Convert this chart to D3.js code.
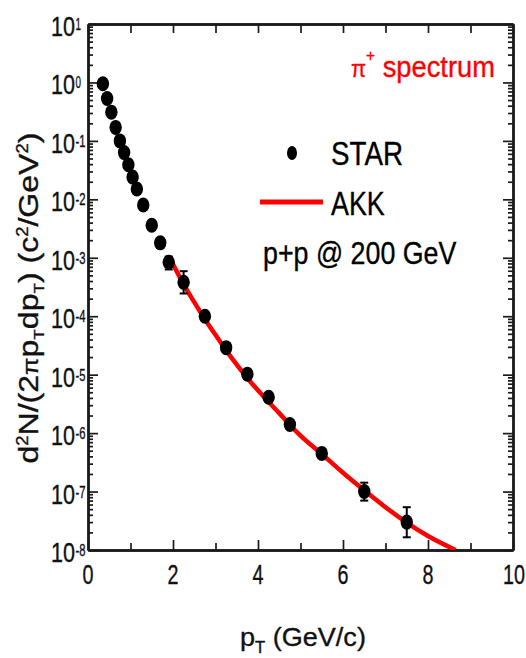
<!DOCTYPE html>
<html><head><meta charset="utf-8">
<script src="https://cdn.jsdelivr.net/npm/d3@7"></script>
<style>html,body{margin:0;padding:0;background:#fff}svg{display:block;font-family:"Liberation Sans",Arial,sans-serif}</style>
</head><body><svg id="c" width="526" height="658"></svg>
<script>
// ---- data ----
const pt     = [0.35,0.45,0.55,0.65,0.75,0.85,0.95,1.05,1.15,1.3,1.5,1.7,1.9,2.25,2.75,3.25,3.75,4.25,4.75,5.5,6.5,7.5];
const yields = [0.95,0.53,0.31,0.17,0.10,0.063,0.039,0.024,0.015,0.008,0.0036,0.0018,8.4e-4,3.8e-4,1.0e-4,2.9e-5,1.02e-5,4.1e-6,1.4e-6,4.5e-7,1.0e-7,3.0e-8];
const errLo  = [null,null,null,null,null,null,null,null,null,null,null,null,6.3e-4,2.45e-4,null,null,null,null,null,3.8e-7,7.0e-8,1.65e-8];
const errHi  = [null,null,null,null,null,null,null,null,null,null,null,null,1.05e-3,5.9e-4,null,null,null,null,null,5.4e-7,1.42e-7,5.4e-8];
const akkPt  = [1.98,2.25,2.5,2.75,3.0,3.25,3.5,3.75,4.0,4.25,4.5,4.75,5.0,5.5,6.0,6.5,7.0,7.5,8.0,8.65];
const akkY   = [8.3e-4,3.5e-4,1.74e-4,8.9e-5,4.8e-5,2.6e-5,1.48e-5,8.7e-6,5.4e-6,3.4e-6,2.2e-6,1.38e-6,9.1e-7,4.4e-7,2.1e-7,1.05e-7,5.4e-8,2.95e-8,1.74e-8,1.0e-8];
const xTickLabels = ["0","2","4","6","8","10"];
const yTickExps = [1,0,-1,-2,-3,-4,-5,-6,-7,-8];

// ---- layout ----
const svg = d3.select("#c");
const L=88, R=513, T=24, B=550;
const x = d3.scaleLinear().domain([0,10]).range([L,R]);
const y = d3.scaleLog().domain([1e-8,10]).range([B,T]);
const ink = "#1a1a1a";

function fit(t, px, py, targetW, anchor, rot){
  const bb = t.node().getBBox();
  const k = targetW / bb.width;
  const off = anchor==="middle" ? bb.width/2 : anchor==="end" ? bb.width : 0;
  t.attr("transform", `translate(${px},${py})${rot?" rotate(-90)":""} scale(${k},1) translate(${-bb.x-off},0)`);
}
function rich(parts, size, color){
  const t = svg.append("text").attr("font-size", size).attr("fill", color||"#000")
    .attr("stroke", color||"#000").attr("stroke-width", 0.35);
  let cur = 0;
  parts.forEach(p=>{
    const sh = p.s||0; // px shift, negative = up
    const ts = t.append("tspan").text(p.t).attr("dy", sh-cur);
    if(p.f) ts.attr("font-size", p.f);
    cur = sh;
  });
  return t;
}
function plain(str, size, color){
  return svg.append("text").attr("font-size",size).attr("fill",color||"#111")
    .attr("stroke",color||"#111").attr("stroke-width",0.35).text(str);
}

// ---- axes ----
const majorX = d3.range(0,11,2), minorX = d3.range(1,10,2);
const majY = yTickExps.map(e=>Math.pow(10,e));
const minY = [];
for(let e=-8;e<1;e++) for(let m=2;m<=9;m++) minY.push(m*Math.pow(10,e));

function styleAxis(g){
  g.selectAll("path.domain").attr("stroke",ink).attr("stroke-width",2.4);
  g.selectAll(".tick line").attr("stroke",ink).attr("stroke-width",1.7);
  g.selectAll(".tick text").remove();
}
svg.append("g").attr("transform",`translate(0,${B})`).call(d3.axisBottom(x).tickValues(majorX).tickSize(-10).tickSizeOuter(0)).call(styleAxis);
svg.append("g").attr("transform",`translate(0,${B})`).call(d3.axisBottom(x).tickValues(minorX).tickSize(-7).tickSizeOuter(0)).call(styleAxis);
svg.append("g").attr("transform",`translate(0,${T})`).call(d3.axisTop(x).tickValues(majorX).tickSize(-9).tickSizeOuter(0)).call(styleAxis);
svg.append("g").attr("transform",`translate(0,${T})`).call(d3.axisTop(x).tickValues(minorX).tickSize(-9).tickSizeOuter(0)).call(styleAxis);
svg.append("g").attr("transform",`translate(${L},0)`).call(d3.axisLeft(y).tickValues(majY).tickSize(-10).tickSizeOuter(0)).call(styleAxis);
svg.append("g").attr("transform",`translate(${L},0)`).call(d3.axisLeft(y).tickValues(minY).tickSize(-5).tickSizeOuter(0)).call(styleAxis);
svg.append("g").attr("transform",`translate(${R},0)`).call(d3.axisRight(y).tickValues(majY).tickSize(-10).tickSizeOuter(0)).call(styleAxis);
svg.append("g").attr("transform",`translate(${R},0)`).call(d3.axisRight(y).tickValues(minY).tickSize(-5).tickSizeOuter(0)).call(styleAxis);

// tick labels
majorX.forEach((v,i)=>{
  const t = plain(xTickLabels[i], 28);
  fit(t, x(v)+(v===10?1:0), 584, xTickLabels[i].length*11, "middle");
});
yTickExps.forEach(e=>{
  const yy = y(Math.pow(10,e));
  const t = plain("10", 28);
  fit(t, 75, yy+12, 24, "end");
  const te = plain(String(e), 17);
  fit(te, 75.5, yy+6, e<0?10:5.5, "start");
});

// axis titles
const xt = rich([{t:"p"},{t:"T",s:7,f:16},{t:" (GeV/c)",s:0}],26,"#111");
fit(xt, 240, 646, 126, "start");
const yt = rich([{t:"d"},{t:"2",s:-10,f:16},{t:"N/(2",s:0},{t:"π",s:0,f:22},{t:"p",s:0},{t:"T",s:6,f:15},{t:"dp",s:0},{t:"T",s:6,f:15},
  {t:") (c",s:0},{t:"2",s:-10,f:16},{t:"/GeV",s:0},{t:"2",s:-10,f:16},{t:")",s:0}],28,"#111");
fit(yt, 38, 298, 331, "middle", true);

// ---- plot content ----
svg.append("clipPath").attr("id","clp").append("rect").attr("x",L).attr("y",T).attr("width",R-L).attr("height",B-T);
const line = d3.line().x((d,i)=>x(akkPt[i])).y(d=>y(d)).curve(d3.curveMonotoneX);
svg.append("path").datum(akkY).attr("d",line).attr("fill","none").attr("stroke","#ff0000").attr("stroke-width",4.5).attr("clip-path","url(#clp)");

const eb = svg.append("g").attr("stroke","#000").attr("stroke-width",2);
pt.forEach((p,i)=>{
  if(errLo[i]==null) return;
  const cx = x(p);
  eb.append("line").attr("x1",cx).attr("x2",cx).attr("y1",y(errLo[i])).attr("y2",y(errHi[i]));
  eb.append("line").attr("x1",cx-4).attr("x2",cx+4).attr("y1",y(errLo[i])).attr("y2",y(errLo[i]));
  eb.append("line").attr("x1",cx-4).attr("x2",cx+4).attr("y1",y(errHi[i])).attr("y2",y(errHi[i]));
});
svg.append("g").selectAll("ellipse").data(pt).join("ellipse")
  .attr("cx",d=>x(d)).attr("cy",(d,i)=>y(yields[i])).attr("rx",6.2).attr("ry",7.5).attr("fill","#000");

// ---- legend / annotations ----
const sp = rich([{t:"π",f:24},{t:"+",s:-16,f:17},{t:" spectrum",s:0}],30,"#ff0000");
fit(sp, 351, 77, 144, "start");
svg.append("ellipse").attr("cx",292).attr("cy",153).attr("rx",5).attr("ry",7).attr("fill","#000");
const st = plain("STAR", 33, "#000");
fit(st, 331, 165, 72, "start");
svg.append("line").attr("x1",260).attr("x2",323).attr("y1",202).attr("y2",202).attr("stroke","#ff0000").attr("stroke-width",5);
const ak = plain("AKK", 34, "#000");
fit(ak, 331, 215, 54, "start");
const pp = plain("p+p @ 200 GeV", 32, "#000");
fit(pp, 263, 264, 194, "start");
</script></body></html>
